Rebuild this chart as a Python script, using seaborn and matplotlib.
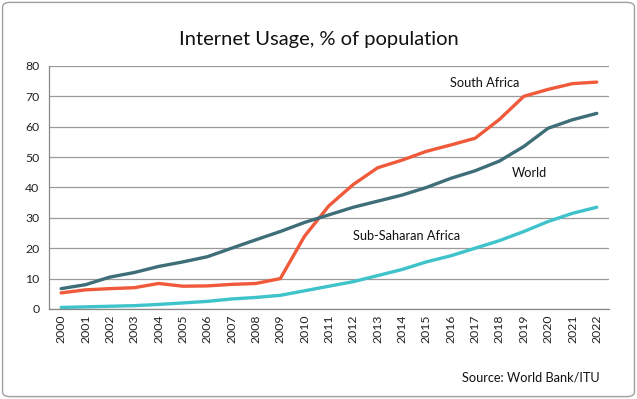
import matplotlib
matplotlib.use("Agg")
import matplotlib.pyplot as plt
import seaborn as sns
import pandas as pd
from matplotlib.patches import FancyBboxPatch

years = list(range(2000, 2023))
world = [6.7, 8.0, 10.5, 12.0, 14.0, 15.5, 17.2, 20.0, 22.8, 25.5, 28.5, 31.0, 33.5,
         35.5, 37.5, 40.0, 43.0, 45.5, 48.7, 53.5, 59.5, 62.3, 64.4]
south_africa = [5.3, 6.3, 6.7, 7.0, 8.4, 7.5, 7.6, 8.1, 8.4, 10.0, 24.0, 34.0, 41.0,
                46.5, 49.0, 51.9, 54.0, 56.2, 62.4, 70.0, 72.3, 74.2, 74.7]
ssa = [0.5, 0.7, 0.9, 1.1, 1.5, 2.0, 2.5, 3.3, 3.8, 4.5, 6.0, 7.5, 9.0, 11.0, 13.0,
       15.5, 17.5, 20.0, 22.5, 25.5, 28.8, 31.5, 33.5]
series_names = ["South Africa", "World", "Sub-Saharan Africa"]
colors = {"South Africa": "#F05A3A", "World": "#3E6E78", "Sub-Saharan Africa": "#3EC3CB"}

df = pd.DataFrame({
    "idx": list(range(len(years))) * 3,
    "value": south_africa + world + ssa,
    "series": [series_names[0]] * len(years) + [series_names[1]] * len(years) + [series_names[2]] * len(years),
})

sns.set_style("white")
plt.rcParams['font.family'] = ['Lato', 'DejaVu Sans']

fig = plt.figure(figsize=(6.37, 3.99), dpi=100)
ax = fig.add_axes([0.0769, 0.2256, 0.956 - 0.0769, 0.8346 - 0.2256])

sns.lineplot(data=df, x="idx", y="value", hue="series", palette=colors,
             linewidth=2.4, ax=ax, legend=False, hue_order=["Sub-Saharan Africa", "South Africa", "World"])

ax.set_xlim(-0.5, len(years) - 0.5)
ax.set_ylim(0, 80)
ax.set_yticks(range(0, 81, 10))
ax.set_yticklabels([str(v) for v in range(0, 81, 10)], fontsize=8.8, color="#222222")
ax.set_xticks(range(len(years)))
ax.set_xticklabels([str(y) for y in years], rotation=90, fontsize=8.8, color="#222222")
ax.set_xticks([i - 0.5 for i in range(len(years) + 1)], minor=True)
ax.tick_params(axis="x", which="major", length=0, pad=4)
ax.tick_params(axis="x", which="minor", length=4, color="#888888", width=0.8, direction="out")
ax.tick_params(axis="y", length=4, color="#888888", width=0.8, direction="out", pad=3)
ax.yaxis.grid(True, color="#9a9a9a", linewidth=0.9)
ax.set_axisbelow(True)
for s in ["top", "right"]:
    ax.spines[s].set_visible(False)
for s in ["left", "bottom"]:
    ax.spines[s].set_color("#888888")
    ax.spines[s].set_linewidth(0.9)
ax.set_xlabel("")
ax.set_ylabel("")

ax.text(17.4, 74.3, "South Africa", fontsize=9.2, ha="center", va="center", color="#111111")
ax.text(19.25, 44.7, "World", fontsize=9.2, ha="center", va="center", color="#111111")
ax.text(14.2, 24.0, "Sub-Saharan Africa", fontsize=9.2, ha="center", va="center", color="#111111")

fig.text(0.5, 1 - 40 / 399, "Internet Usage, % of population", fontsize=14.5, ha="center", va="center", color="#111111")
fig.text(600 / 637, 1 - 378 / 399, "Source: World Bank/ITU", fontsize=9.2, ha="right", va="center", color="#111111")

border = FancyBboxPatch((0.004, 0.006), 0.992, 0.988, boxstyle="round,pad=0,rounding_size=0.012",
                        transform=fig.transFigure, fill=False, edgecolor="#a0a0a0", linewidth=1.0)
fig.patches.append(border)

fig.savefig("out.png", dpi=100)
